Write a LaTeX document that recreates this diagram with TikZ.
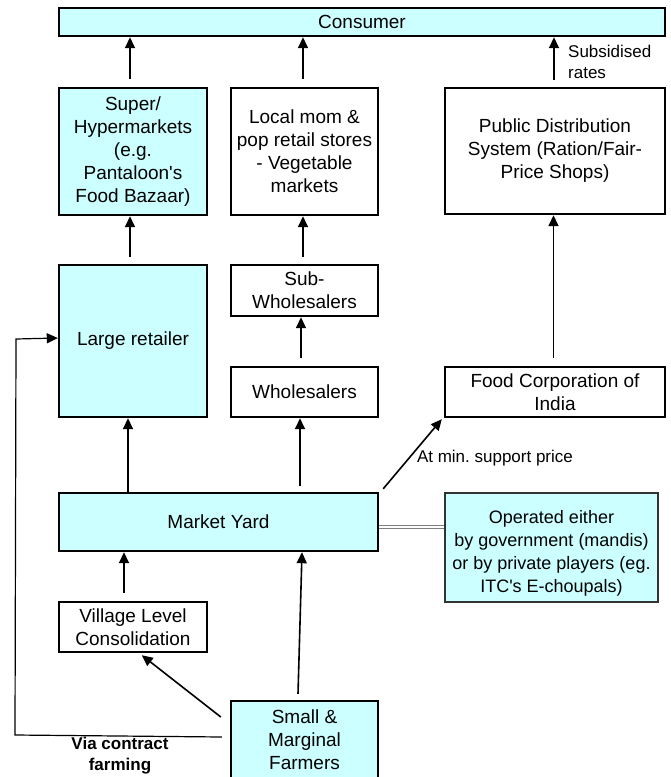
\documentclass[tikz,border=0pt]{standalone}
\usepackage{fontspec}
\setmainfont{Liberation Sans}
\usetikzlibrary{arrows.meta,calc}
\definecolor{boxcyan}{HTML}{CCFFFF}
\frenchspacing
\tikzset{
  box/.style={draw=black, line width=2.4pt, inner sep=0pt, align=center,
    font=\fontsize{19}{23}\selectfont},
  cbox/.style={box, fill=boxcyan},
  arr/.style={-{Triangle[length=11pt,width=10pt]}, line width=1.6pt},
  thinarr/.style={-{Triangle[length=11pt,width=10pt]}, line width=1.2pt},
  lbl/.style={inner sep=0pt, align=left, font=\fontsize{17}{21}\selectfont},
}
\begin{document}
\begin{tikzpicture}[x=1pt,y=-1pt]
\useasboundingbox (0,0) rectangle (670,777);
% nodes
\node[cbox, minimum width=606pt, minimum height=28pt] (consumer) at (362,22) {Consumer};
\node[cbox, minimum width=148pt, minimum height=127pt] (super) at (133,151.5)
  {Super/\\Hypermarkets\\(e.g.\\Pantaloon\textquotesingle s\\Food Bazaar)};
\node[box, minimum width=147pt, minimum height=127pt] (local) at (304.5,151.5)
  {Local mom \&\\pop retail stores\\- Vegetable\\markets};
\node[box, minimum width=220pt, minimum height=126pt] (pds) at (555,151)
  {Public Distribution\\System (Ration/Fair-\\Price Shops)};
\node[cbox, minimum width=148pt, minimum height=152pt] (large) at (133,341) {Large retailer};
\node[box, minimum width=147pt, minimum height=51pt] (sub) at (304.5,290.5)
  {Sub-\\Wholesalers};
\node[box, minimum width=147pt, minimum height=50pt] (whole) at (304.5,392) {Wholesalers};
\node[box, minimum width=220pt, minimum height=50pt] (fci) at (555,392)
  {Food Corporation of\\India};
\node[cbox, minimum width=319pt, minimum height=58pt] (market) at (218.5,522) {Market Yard};
\node[draw=black!80, fill=boxcyan, line width=1.2pt, inner sep=0pt, align=center,
  font=\fontsize{18}{23}\selectfont, minimum width=213pt, minimum height=109pt]
  (operated) at (551.5,547.5)
  {\rule{0pt}{24pt}Operated either\\by government (mandis)\\or by private players (eg.\\ITC\textquotesingle s E-choupals)};
\node[box, minimum width=148pt, minimum height=50pt] (village) at (133,627)
  {Village Level\\Consolidation};
\node[cbox, minimum width=147pt, minimum height=78pt] (small) at (304.5,740)
  {Small \&\\Marginal\\Farmers};
% labels
\node[lbl, anchor=west] (subs) at ($(pds.north)+(13,-25)$) {Subsidised\\rates};
\node[lbl, anchor=west] (msp) at ($(fci.south west)+(-27,40)$) {At min. support price};
\node[lbl, align=center, font=\fontsize{17}{21}\selectfont\bfseries] (via) at (120,756)
  {Via contract\\farming};
% connectors
\draw[arr] ($(super.north)+(-3,-8)$) -- ($(super.north|-consumer.south)+(-3,0)$);
\draw[arr] ($(local.north)+(-1.5,-8)$) -- ($(local.north|-consumer.south)+(-1.5,0)$);
\draw[arr] ($(pds.north)+(-1,-7)$) -- ($(pds.north|-consumer.south)+(-1,0)$);
\draw[arr] ($(large.north)+(-3,-7)$) -- ($(large.north|-super.south)+(-3,0)$);
\draw[arr] ($(sub.north)+(-1.5,-7)$) -- ($(sub.north|-local.south)+(-1.5,0)$);
\draw[arr] ($(fci.north)+(-1.5,-8)$) -- ($(fci.north|-pds.south)+(-1.5,0)$);
\draw[arr] ($(whole.north)+(-3.5,-8)$) -- ($(whole.north|-sub.south)+(-3.5,0)$);
\draw[arr] ($(large.south|-market.north)+(-5,0)$) -- ($(large.south)+(-5,0)$);
\draw[arr] ($(whole.south|-market.north)+(-4.5,-6)$) -- ($(whole.south)+(-4.5,0)$);
\draw[arr] ($(market.north east)+(4,-3)$) -- ($(fci.south west)+(-2,1)$);
\draw[arr] ($(village.north)+(-9,-8)$) -- ($(village.north|-market.south)+(-9,0)$);
\draw[arr] ($(small.north)+(-6.5,-6)$) -- ($(market.south-|small.north)+(-2.5,0)$);
\draw[arr] ($(small.west)+(-9,-23)$) -- ($(village.south west)+(84,2)$);
\coordinate (cf1) at (15,735);
\coordinate (cf2) at (16,339);
\draw[thinarr] ($(small.west)+(-8,-3)$) -- (cf1) -- (cf2) -- ($(large.west)+(0,-3)$);
\draw[draw=gray, line width=0.9pt, double=white, double distance=2pt]
  ($(market.east)+(0,5)$) -- ($(operated.west|-market.east)+(0,5)$);
\end{tikzpicture}
\end{document}
